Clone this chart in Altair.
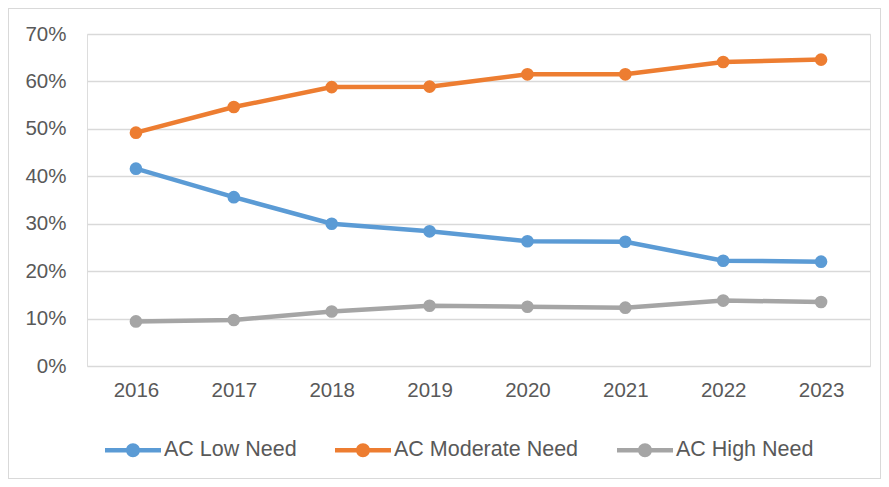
import altair as alt
import pandas as pd

years = ["2016", "2017", "2018", "2019", "2020", "2021", "2022", "2023"]
low_need = [0.416, 0.356, 0.300, 0.284, 0.263, 0.262, 0.222, 0.220]
moderate_need = [0.492, 0.546, 0.588, 0.589, 0.615, 0.615, 0.641, 0.646]
high_need = [0.094, 0.097, 0.115, 0.127, 0.125, 0.123, 0.138, 0.135]
series_names = ["AC Low Need", "AC Moderate Need", "AC High Need"]
colors = ["#5B9BD5", "#ED7D31", "#A5A5A5"]
y_ticks = [0, 0.1, 0.2, 0.3, 0.4, 0.5, 0.6, 0.7]

rows = []
for name, vals in zip(series_names, [low_need, moderate_need, high_need]):
    for yr, v in zip(years, vals):
        rows.append({"Year": yr, "Series": name, "Value": v})
df = pd.DataFrame(rows)

FONT = "Liberation Sans"
TXT = "#595959"

symbol_path = ("M-1,-0.08L-0.2,-0.08L-0.2,0.08L-1,0.08Z "
               "M0.2,-0.08L1,-0.08L1,0.08L0.2,0.08Z "
               "M-0.25,0A0.25,0.25 0 1,1 0.25,0A0.25,0.25 0 1,1 -0.25,0Z")

x_enc = alt.X("Year:N", sort=years, title=None,
              scale=alt.Scale(paddingInner=0, paddingOuter=0, align=0.5),
              axis=alt.Axis(labelAngle=0, ticks=False, domain=False, grid=False,
                            labelFont=FONT, labelFontSize=20.5, labelColor=TXT,
                            labelPadding=14))
y_enc = alt.Y("Value:Q", title=None,
              scale=alt.Scale(domain=[0, 0.7], nice=False),
              axis=alt.Axis(values=y_ticks, format=".0%", ticks=False, domain=False,
                            grid=True, gridColor="#D9D9D9", gridWidth=1.5,
                            labelFont=FONT, labelFontSize=20.5, labelColor=TXT,
                            labelPadding=21))
color_enc = alt.Color("Series:N", sort=series_names,
                      scale=alt.Scale(domain=series_names, range=colors),
                      legend=alt.Legend(title=None, orient="none", direction="horizontal",
                                        legendX=18, legendY=388,
                                        symbolType=symbol_path, symbolSize=3136,
                                        symbolStrokeWidth=0, symbolOpacity=1,
                                        labelFont=FONT, labelFontSize=21.5, labelColor=TXT,
                                        labelLimit=0,
                                        labelOffset=3, columnPadding=38))

points = alt.Chart(df).mark_point(filled=True, size=160, opacity=1).encode(
    x=x_enc, y=y_enc, color=color_enc)
line = alt.Chart(df).mark_line(strokeWidth=4.5).encode(
    x=x_enc, y=y_enc, color=color_enc)

border = alt.Chart(df).mark_rect(fill=None, stroke="#D9D9D9", strokeWidth=1).encode(
    x=alt.value(-78.5), x2=alt.value(793.5), y=alt.value(-25.5), y2=alt.value(444.5))

chart = alt.layer(border, points, line).properties(
    width=783, height=332,
    autosize=alt.AutoSizeParams(type="none"),
    padding={"left": 79, "top": 26, "right": 11, "bottom": 113},
).configure_view(stroke=None).configure(background="white")

chart.save("out.html", embed_options={"renderer": "svg", "actions": False})
